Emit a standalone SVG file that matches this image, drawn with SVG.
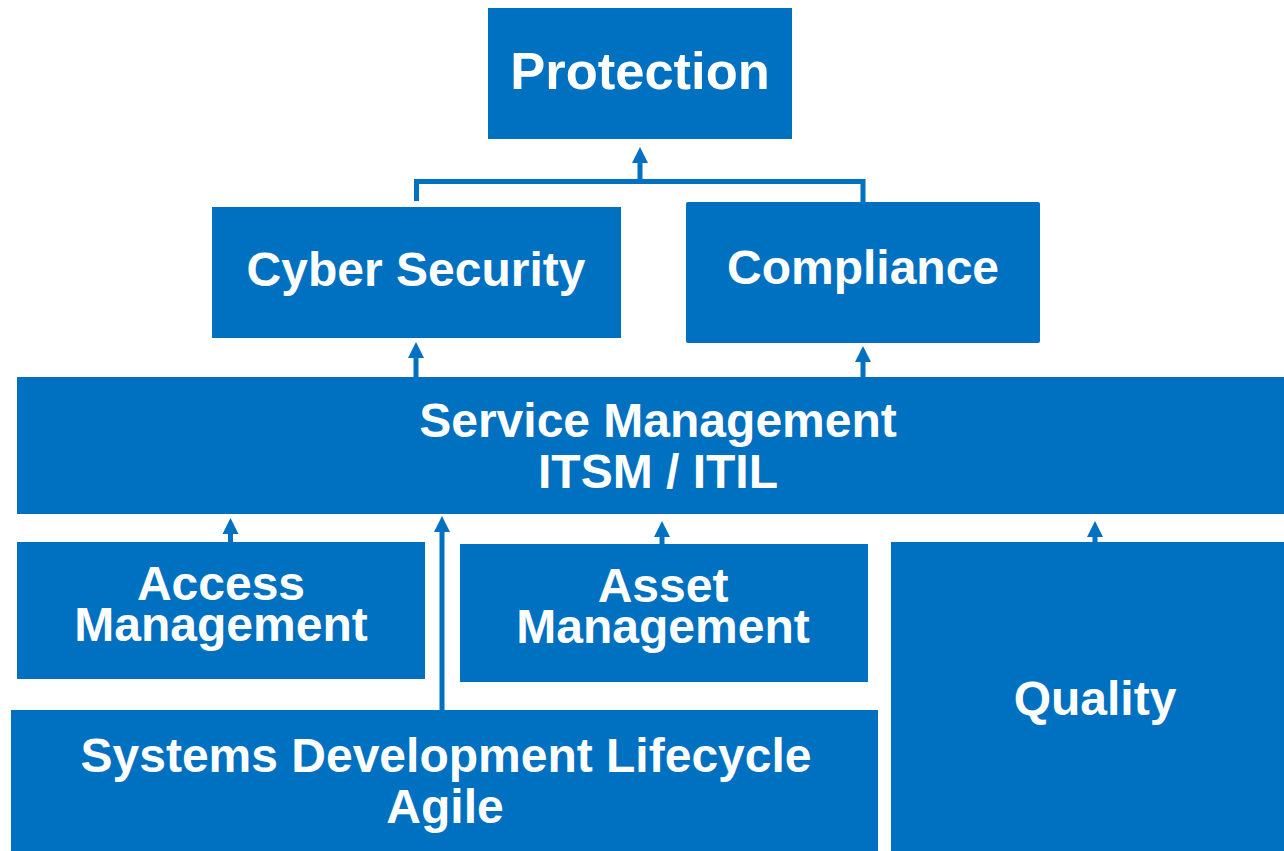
<svg xmlns="http://www.w3.org/2000/svg" width="1284" height="851" viewBox="0 0 1284 851">
<style>
.box{fill:#0070C0}
.t{fill:#fff;font-family:"Liberation Sans",Arial,sans-serif;font-weight:bold;font-size:48px;text-anchor:middle}
.c{stroke:#0070C0;stroke-width:5;fill:none}
.ah{fill:#0070C0}
</style>
<g id="connectors">
<polyline class="c" points="416.5,201 416.5,181.5 863,181.5 863,202"/>
<line class="c" x1="640" y1="181.5" x2="640" y2="162"/>
<path class="ah" d="M632,163 L640,147 L648,163 Z"/>
<line class="c" x1="416" y1="377" x2="416" y2="356"/>
<path class="ah" d="M408,358 L416,342 L424,358 Z"/>
<line class="c" x1="863" y1="377" x2="863" y2="360"/>
<path class="ah" d="M855,362 L863,346 L871,362 Z"/>
<line class="c" x1="230.5" y1="542" x2="230.5" y2="532"/>
<path class="ah" d="M222.5,534 L230.5,518 L238.5,534 Z"/>
<line class="c" x1="442" y1="710" x2="442" y2="530"/>
<path class="ah" d="M434,532 L442,516 L450,532 Z"/>
<line class="c" x1="662" y1="544" x2="662" y2="535"/>
<path class="ah" d="M654,537 L662,521 L670,537 Z"/>
<line class="c" x1="1095" y1="542" x2="1095" y2="535"/>
<path class="ah" d="M1087,537 L1095,521 L1103,537 Z"/>
</g>
<g id="protection">
<rect class="box" x="488" y="8" width="304" height="131"/>
<text class="t" x="640" y="89" style="font-size:52.5px">Protection</text>
</g>
<g id="cyber-security">
<rect class="box" x="212" y="207" width="409" height="131"/>
<text class="t" x="416" y="286">Cyber Security</text>
</g>
<g id="compliance">
<rect class="box" x="686" y="202" width="354" height="141" rx="2"/>
<text class="t" x="863" y="284">Compliance</text>
</g>
<g id="service-management">
<rect class="box" x="17" y="377" width="1267" height="137"/>
<text class="t" x="658" y="437">Service Management</text>
<text class="t" x="658" y="488">ITSM / ITIL</text>
</g>
<g id="access-management">
<rect class="box" x="17" y="542" width="408" height="137"/>
<text class="t" x="221" y="600">Access</text>
<text class="t" x="221" y="641">Management</text>
</g>
<g id="asset-management">
<rect class="box" x="460" y="544" width="408" height="138"/>
<text class="t" x="663" y="602">Asset</text>
<text class="t" x="663" y="643">Management</text>
</g>
<g id="quality">
<rect class="box" x="891" y="542" width="393" height="309"/>
<text class="t" x="1095" y="715">Quality</text>
</g>
<g id="sdlc">
<rect class="box" x="11" y="710" width="867" height="141"/>
<text class="t" x="446" y="772">Systems Development Lifecycle</text>
<text class="t" x="445" y="823">Agile</text>
</g>
</svg>
